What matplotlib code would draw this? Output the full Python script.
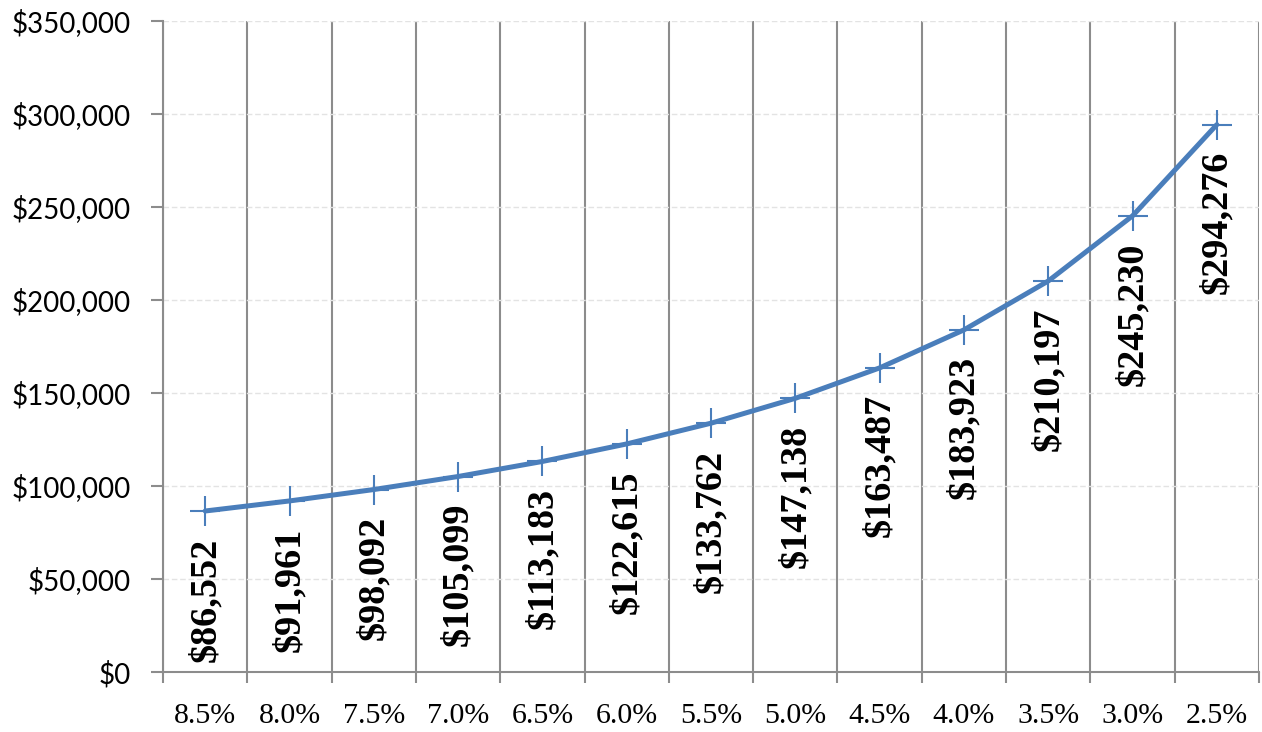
import matplotlib.pyplot as plt
from matplotlib.ticker import FuncFormatter, FixedLocator

rates = ["8.5%", "8.0%", "7.5%", "7.0%", "6.5%", "6.0%", "5.5%",
         "5.0%", "4.5%", "4.0%", "3.5%", "3.0%", "2.5%"]
values = [86552, 91961, 98092, 105099, 113183, 122615, 133762,
          147138, 163487, 183923, 210197, 245230, 294276]

line_color = "#4a7ebb"
grid_color = "#8c8c8c"

fig = plt.figure(figsize=(12.62, 7.32), dpi=100)
ax = fig.add_axes([0.1292, 0.082, 0.8684, 0.8893])

xs = list(range(len(rates)))
ax.plot(xs, values, color=line_color, linewidth=3.6, marker="+",
        markersize=21, markeredgewidth=1.5, solid_capstyle="round", zorder=3)

# value labels, rotated, hanging under each point
for x, v in zip(xs, values):
    ax.annotate("${:,}".format(v), (x, v), xytext=(0, -19),
                textcoords="offset points", rotation=90, ha="center", va="top",
                fontsize=27.5, fontweight="bold", family="Liberation Serif",
                color="black", zorder=4)

ax.set_xlim(-0.5, len(rates) - 0.5)
ax.set_ylim(0, 350000)

ax.set_xticks(xs)
ax.xaxis.set_minor_locator(FixedLocator([i - 0.5 for i in range(len(rates) + 1)]))
ax.tick_params(axis="x", which="major", length=0, pad=22, labelsize=21.5)
ax.tick_params(axis="x", which="minor", length=8, width=1.5, color=grid_color)
ax.grid(axis="x", which="minor", color=grid_color, linewidth=1.5)

ax.set_yticks(range(0, 350001, 50000))
ax.yaxis.set_major_formatter(FuncFormatter(lambda v, p: "${:,.0f}".format(v)))
ax.tick_params(axis="y", length=9, width=1.5, color=grid_color, pad=14, labelsize=20)
ax.grid(axis="y", which="major", color="#e3e3e3", linewidth=1, linestyle=(0, (4, 2)))

ax.set_xticklabels(rates)
for lbl in ax.get_xticklabels():
    lbl.set_family("Liberation Serif")
for lbl in ax.get_yticklabels():
    lbl.set_family("Lato")

for side in ["top", "right"]:
    ax.spines[side].set_visible(False)
for side in ["left", "bottom"]:
    ax.spines[side].set_color(grid_color)
    ax.spines[side].set_linewidth(1.5)

ax.set_axisbelow(True)
fig.savefig("out.png", dpi=100)
